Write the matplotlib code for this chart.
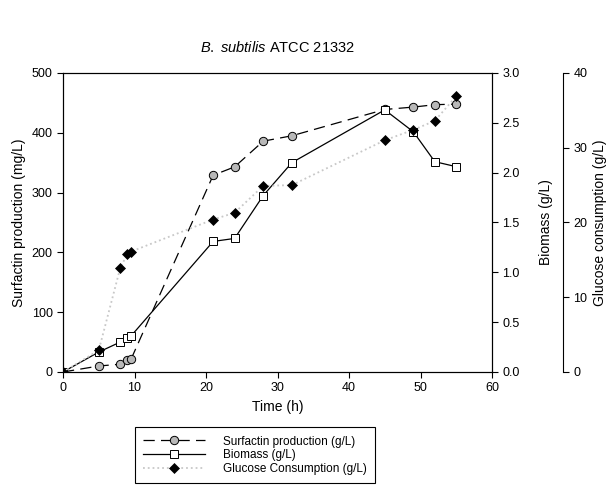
import matplotlib
matplotlib.use('Agg')
import matplotlib.pyplot as plt
import numpy as np

plt.rcParams['font.family'] = ['Liberation Sans', 'DejaVu Sans']
plt.rcParams['mathtext.fontset'] = 'custom'
plt.rcParams['mathtext.rm'] = 'Liberation Sans'
plt.rcParams['mathtext.it'] = 'Liberation Sans:italic'

tempo = [0, 5, 8, 9, 9.5, 21, 24, 28, 32, 45, 49, 52, 55]
surfactina = [0, 10, 13, 20, 21, 329, 343, 386, 395, 439, 443, 447, 448]
biomassa = [0, 0.20, 0.30, 0.34, 0.36, 1.31, 1.34, 1.77, 2.10, 2.63, 2.41, 2.11, 2.06]
glicose = [0, 2.9, 13.9, 15.8, 16.1, 20.4, 21.3, 24.9, 25.0, 31.0, 32.4, 33.6, 36.9]

fig = plt.figure(figsize=(6.1, 4.86), dpi=100)
ax = fig.add_axes([0.1033, 0.2346, 0.7033, 0.6152])
ax2 = ax.twinx()
ax3 = ax.twinx()
ax3.spines['right'].set_position(('axes', 1.1655))
ax3.spines['top'].set_visible(False)
ax3.spines['left'].set_visible(False)
ax3.spines['bottom'].set_visible(False)

l1, = ax.plot(tempo, surfactina, color='black', lw=0.9, dashes=(9, 5),
              marker='o', ms=6, mfc='#b8b8b8', mec='black', mew=0.7,
              label='Surfactin production (g/L)', zorder=3)
l2, = ax2.plot(tempo, biomassa, color='black', lw=0.9, ls='-',
               marker='s', ms=5.5, mfc='white', mec='black', mew=0.7,
               label='Biomass (g/L)', zorder=3)
l3, = ax3.plot(tempo, glicose, color='#c8c8c8', lw=1.3, ls=':',
               marker='D', ms=5, mfc='black', mec='black', mew=0.5,
               label='Glucose Consumption (g/L)', zorder=3)

ax.set_xlim(0, 60)
ax.set_ylim(0, 500)
ax2.set_ylim(0, 3.0)
ax3.set_ylim(0, 40)
ax.set_xticks(np.arange(0, 61, 10))
ax.set_yticks(np.arange(0, 501, 100))
ax2.set_yticks(np.arange(0, 3.01, 0.5))
ax2.set_yticklabels([f'{v:.1f}' for v in np.arange(0, 3.01, 0.5)])
ax3.set_yticks(np.arange(0, 41, 10))

for a in (ax, ax2, ax3):
    a.tick_params(direction='out', length=4, width=0.8, labelsize=9)
    for s in a.spines.values():
        s.set_linewidth(0.8)

ax.set_xlabel('Time (h)', fontsize=10)
ax.set_ylabel('Surfactin production (mg/L)', fontsize=10)
ax2.set_ylabel('Biomass (g/L)', fontsize=10, labelpad=14)
ax3.set_ylabel('Glucose consumption (g/L)', fontsize=10, labelpad=4)

fig.text(0.455, 0.903, r'$\it{B.\ subtilis}$ ATCC 21332', ha='center',
         va='center', fontsize=10.5)

leg = fig.legend(handles=[l1, l2, l3], loc='upper left',
                 bbox_to_anchor=(0.211, 0.133), fontsize=8.5,
                 handlelength=5.3, handletextpad=1.5, labelspacing=0.15,
                 borderpad=0.7, fancybox=False, edgecolor='black',
                 framealpha=1)
leg.get_frame().set_linewidth(0.8)

fig.savefig('out.png', dpi=100)
